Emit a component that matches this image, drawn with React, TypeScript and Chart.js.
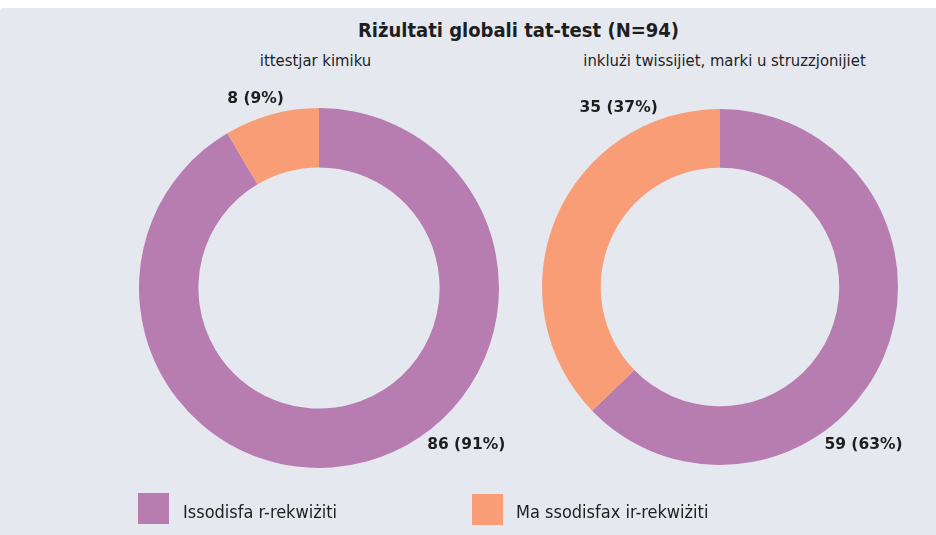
import React, { useEffect, useRef } from "react";
import { Chart, registerables } from "chart.js";

Chart.register(...registerables);

const TITLE = "Riżultati globali tat-test (N=94)";
const SERIES_NAMES = ["Issodisfa r-rekwiżiti", "Ma ssodisfax ir-rekwiżiti"];
const CHART_TITLES = ["ittestjar kimiku", "inklużi twissijiet, marki u struzzjonijiet"];
const LEFT_VALUES = [86, 8];
const RIGHT_VALUES = [59, 35];

const COLORS = ["#B77CB0", "#F99D77"];
const BG = "#E6E8F0";
const TEXT = "#1E1E1E";
const FONT_MAIN = "'DejaVu Sans Condensed', 'DejaVu Sans', sans-serif";
const FONT_LABEL = "'DejaVu Sans', sans-serif";

const outLabels = {
  id: "outLabels",
  afterDatasetsDraw(chart: any, _args: any, opts: any) {
    const ctx = chart.ctx;
    const meta = chart.getDatasetMeta(0);
    const data = chart.data.datasets[0].data as number[];
    const total = data.reduce((a, b) => a + b, 0);
    ctx.save();
    ctx.font = opts.font;
    ctx.fillStyle = opts.color;
    ctx.textAlign = "center";
    ctx.textBaseline = "middle";
    meta.data.forEach((arc: any, i: number) => {
      const v = data[i];
      const txt = `${v} (${Math.round((v / total) * 100)}%)`;
      const ang = ((opts.angles[i] - 90) * Math.PI) / 180;
      const r = arc.outerRadius + opts.gap;
      const px = arc.x + Math.cos(ang) * r;
      const py = arc.y + Math.sin(ang) * r;
      const w = ctx.measureText(txt).width;
      const h = opts.height;
      const cx = px + Math.sign(Math.cos(ang)) * w / 2;
      const cy = py + Math.sign(Math.sin(ang)) * h / 2;
      ctx.fillText(txt, cx, cy);
    });
    ctx.restore();
  },
};

function Donut(props: { values: number[]; angles: number[]; pad: number; style: React.CSSProperties }) {
  const ref = useRef<HTMLCanvasElement>(null);
  useEffect(() => {
    const chart = new Chart(ref.current as HTMLCanvasElement, {
      type: "doughnut",
      data: {
        labels: SERIES_NAMES,
        datasets: [
          {
            data: props.values,
            backgroundColor: COLORS,
            borderWidth: 0,
          },
        ],
      },
      options: {
        animation: false,
        responsive: false,
        cutout: "67%",
        layout: { padding: props.pad },
        plugins: {
          legend: { display: false },
          tooltip: { enabled: false },
          outLabels: {
            angles: props.angles,
            gap: 4,
            height: 17,
            font: `bold 15.5px ${FONT_LABEL}`,
            color: TEXT,
          },
        } as any,
      },
      plugins: [outLabels],
    });
    return () => chart.destroy();
  }, []);
  return <canvas ref={ref} width={440} height={440} style={{ position: "absolute", ...props.style }} />;
}

export default function App() {
  const txt = (s: string, style: React.CSSProperties) => (
    <div
      style={{
        position: "absolute",
        whiteSpace: "nowrap",
        color: TEXT,
        fontFamily: FONT_MAIN,
        transform: "translate(-50%, -50%)",
        lineHeight: 1,
        ...style,
      }}
    >
      {s}
    </div>
  );
  const legendText: React.CSSProperties = {
    position: "absolute",
    top: 504,
    fontSize: 18,
    fontFamily: FONT_MAIN,
    color: TEXT,
    whiteSpace: "nowrap",
    transform: "translateY(-50%)",
    lineHeight: 1,
  };
  return (
    <div style={{ position: "fixed", inset: 0, overflow: "hidden", background: "#FFFFFF" }}>
      <div
        style={{
          position: "absolute",
          left: 0,
          top: 8,
          width: 1038,
          height: 540,
          background: BG,
          borderTopLeftRadius: 4,
        }}
      >
        {txt(TITLE, { left: 518.5, top: 22, fontSize: 20, fontWeight: "bold" })}
        {txt(CHART_TITLES[0], { left: 315.5, top: 53, fontSize: 16.5 })}
        {txt(CHART_TITLES[1], { left: 724.5, top: 53, fontSize: 16.5 })}
        <Donut values={LEFT_VALUES} angles={[144, 349]} pad={40} style={{ left: 98.5, top: 60 }} />
        <Donut values={RIGHT_VALUES} angles={[145, 340]} pad={42} style={{ left: 500, top: 59 }} />
        <div style={{ position: "absolute", left: 138, top: 485, width: 31, height: 31, background: COLORS[0] }} />
        <div style={{ position: "absolute", left: 472, top: 486, width: 31, height: 31, background: COLORS[1] }} />
        <div style={{ ...legendText, left: 183 }}>{SERIES_NAMES[0]}</div>
        <div style={{ ...legendText, left: 516 }}>{SERIES_NAMES[1]}</div>
      </div>
    </div>
  );
}
